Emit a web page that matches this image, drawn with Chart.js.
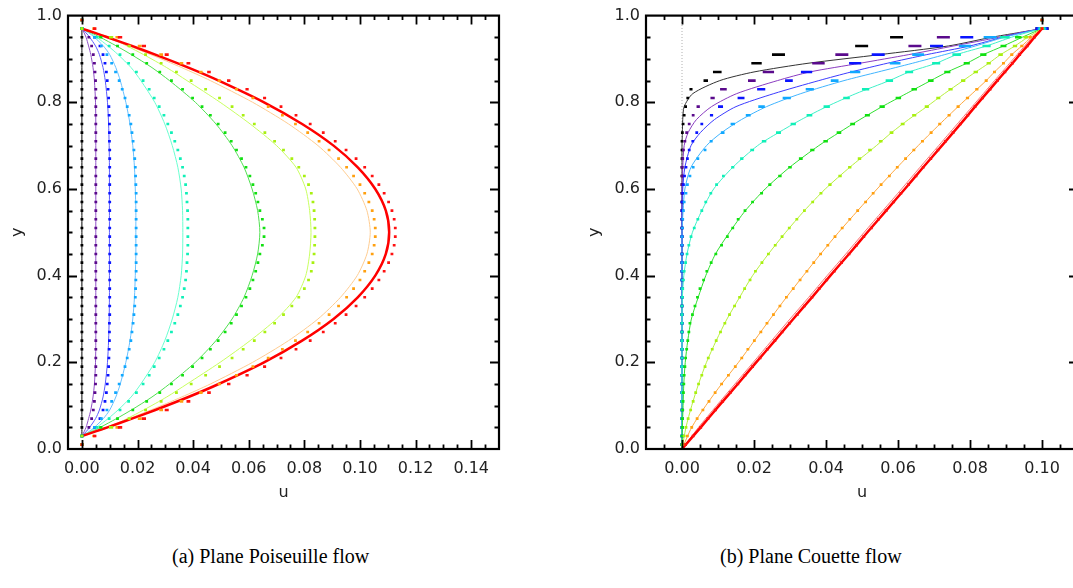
<!DOCTYPE html>
<html>
<head>
<meta charset="utf-8">
<script src="https://cdn.jsdelivr.net/npm/chart.js@4.4.0/dist/chart.umd.min.js"></script>
<style>
  html, body { margin: 0; padding: 0; background: #fff; overflow: hidden; width: 1073px; height: 588px; }
  #pois { position: absolute; left: 0; top: 0; }
  #coue { position: absolute; left: 560px; top: 0; }
  .cap { position: absolute; top: 545px; font-family: "Liberation Serif", serif; font-size: 20px; color: #000; white-space: nowrap; }
</style>
</head>
<body>
<canvas id="pois" width="520" height="510"></canvas>
<canvas id="coue" width="540" height="510"></canvas>
<div class="cap" style="left:172px">(a) Plane Poiseuille flow</div>
<div class="cap" style="left:720px">(b) Plane Couette flow</div>
<script>
// ---- tick labels ----
const Y_TICKS = [0, 0.2, 0.4, 0.6, 0.8, 1.0];
const POIS_X_TICKS = [0, 0.02, 0.04, 0.06, 0.08, 0.10, 0.12, 0.14];
const COUE_X_TICKS = [0, 0.02, 0.04, 0.06, 0.08, 0.10];

// y positions of the simulation nodes (both panels)
const DOT_Y = [0.01, 0.03, 0.05, 0.07, 0.09, 0.11, 0.13, 0.15, 0.17, 0.19, 0.21, 0.23, 0.25, 0.27, 0.29, 0.31, 0.33, 0.35, 0.37, 0.39, 0.41, 0.43, 0.45, 0.47, 0.49,
  0.51, 0.53, 0.55, 0.57, 0.59, 0.61, 0.63, 0.65, 0.67, 0.69, 0.71, 0.73, 0.75, 0.77, 0.79, 0.81, 0.83, 0.85, 0.87, 0.89, 0.91, 0.93, 0.95, 0.97, 0.99];

// ---- (a) Poiseuille: analytic curves ----
const POIS_LINE_Y = [0.03, 0.04, 0.05, 0.07, 0.09, 0.12, 0.15, 0.2, 0.25, 0.3, 0.35, 0.4, 0.45, 0.5, 0.55, 0.6, 0.65, 0.7, 0.75, 0.8, 0.85, 0.88, 0.91, 0.93, 0.95, 0.96, 0.97];
const POIS_RED_LINE = [0, 0.0047, 0.0092, 0.0180, 0.0264, 0.0383, 0.0492, 0.0655, 0.0792, 0.0905, 0.0992, 0.1055, 0.1093, 0.1105, 0.1093, 0.1055, 0.0992, 0.0905, 0.0792, 0.0655, 0.0492, 0.0383, 0.0264, 0.0180, 0.0092, 0.0047, 0];
const POIS_ORANGE_LINE = [0, 0.0044, 0.0086, 0.0169, 0.0248, 0.0359, 0.0462, 0.0614, 0.0743, 0.0849, 0.0930, 0.0990, 0.1025, 0.1037, 0.1025, 0.0990, 0.0930, 0.0849, 0.0743, 0.0614, 0.0462, 0.0359, 0.0248, 0.0169, 0.0086, 0.0044, 0];
const POIS_YELLOW_LINE = [0, 0.0050, 0.0098, 0.0162, 0.0222, 0.0305, 0.0378, 0.0497, 0.0605, 0.0700, 0.0770, 0.0805, 0.0819, 0.0824, 0.0819, 0.0805, 0.0770, 0.0700, 0.0605, 0.0497, 0.0378, 0.0305, 0.0222, 0.0162, 0.0098, 0.0050, 0];
const POIS_GREEN_LINE = [0, 0.0034, 0.0066, 0.0124, 0.0178, 0.0252, 0.0315, 0.0408, 0.0482, 0.0540, 0.0583, 0.0612, 0.0632, 0.0640, 0.0632, 0.0612, 0.0583, 0.0540, 0.0482, 0.0408, 0.0315, 0.0252, 0.0178, 0.0124, 0.0066, 0.0034, 0];
const POIS_AQUA_LINE = [0, 0.0028, 0.0053, 0.0094, 0.0130, 0.0177, 0.0212, 0.0262, 0.0298, 0.0325, 0.0345, 0.0357, 0.0362, 0.0363, 0.0362, 0.0357, 0.0345, 0.0325, 0.0298, 0.0262, 0.0212, 0.0177, 0.0130, 0.0094, 0.0053, 0.0028, 0];
const POIS_SKY_LINE = [0, 0.0025, 0.0045, 0.0077, 0.0100, 0.0122, 0.0138, 0.0158, 0.0173, 0.0183, 0.0189, 0.0192, 0.0194, 0.0194, 0.0194, 0.0192, 0.0189, 0.0183, 0.0173, 0.0158, 0.0138, 0.0122, 0.0100, 0.0077, 0.0045, 0.0025, 0];
const POIS_BLUE_LINE = [0, 0.0015, 0.0028, 0.0049, 0.0063, 0.0076, 0.0084, 0.0092, 0.0096, 0.0098, 0.0099, 0.0099, 0.0099, 0.0099, 0.0099, 0.0099, 0.0099, 0.0098, 0.0096, 0.0092, 0.0084, 0.0076, 0.0063, 0.0049, 0.0028, 0.0015, 0];
const POIS_PURPLE_LINE = [0, 0.0008, 0.0015, 0.0024, 0.0032, 0.0040, 0.0045, 0.0049, 0.0050, 0.0050, 0.0050, 0.0050, 0.0050, 0.0050, 0.0050, 0.0050, 0.0050, 0.0050, 0.0050, 0.0049, 0.0045, 0.0040, 0.0032, 0.0024, 0.0015, 0.0008, 0];
const POIS_BLACK_LINE = [0, 0, 0, 0, 0, 0, 0, 0, 0, 0, 0, 0, 0, 0, 0, 0, 0, 0, 0, 0, 0, 0, 0, 0, 0, 0, 0];

// ---- (a) Poiseuille: simulation nodes ----
const POIS_RED_DOTS = [0, 0.0046, 0.0137, 0.0223, 0.0305, 0.0383, 0.0457, 0.0528, 0.0594, 0.0657, 0.0716, 0.0770, 0.0821, 0.0868, 0.0911, 0.0950, 0.0986, 0.1017, 0.1044, 0.1068, 0.1087, 0.1103, 0.1115, 0.1123, 0.1127,
  0.1127, 0.1123, 0.1115, 0.1103, 0.1087, 0.1068, 0.1044, 0.1017, 0.0986, 0.0950, 0.0911, 0.0868, 0.0821, 0.0770, 0.0716, 0.0657, 0.0594, 0.0528, 0.0457, 0.0383, 0.0305, 0.0223, 0.0137, 0.0046, 0];
const POIS_ORANGE_DOTS = [0, 0.0043, 0.0128, 0.0208, 0.0285, 0.0358, 0.0428, 0.0494, 0.0556, 0.0615, 0.0670, 0.0721, 0.0768, 0.0812, 0.0853, 0.0889, 0.0923, 0.0952, 0.0977, 0.1000, 0.1017, 0.1032, 0.1044, 0.1051, 0.1055,
  0.1055, 0.1051, 0.1044, 0.1032, 0.1017, 0.1000, 0.0977, 0.0952, 0.0923, 0.0889, 0.0853, 0.0812, 0.0768, 0.0721, 0.0670, 0.0615, 0.0556, 0.0494, 0.0428, 0.0358, 0.0285, 0.0208, 0.0128, 0.0043, 0];
const POIS_YELLOW_DOTS = [0, 0, 0.0105, 0.0170, 0.0229, 0.0285, 0.0340, 0.0393, 0.0445, 0.0495, 0.0540, 0.0580, 0.0620, 0.0658, 0.0693, 0.0725, 0.0755, 0.0780, 0.0800, 0.0815, 0.0825, 0.0831, 0.0835, 0.0837, 0.0838,
  0.0838, 0.0837, 0.0835, 0.0831, 0.0825, 0.0815, 0.0800, 0.0780, 0.0755, 0.0725, 0.0693, 0.0658, 0.0620, 0.0580, 0.0540, 0.0495, 0.0445, 0.0393, 0.0340, 0.0285, 0.0229, 0.0170, 0.0105, 0, 0];
const POIS_GREEN_DOTS = [0, 0, 0.0068, 0.0128, 0.0183, 0.0233, 0.0280, 0.0322, 0.0362, 0.0398, 0.0432, 0.0462, 0.0490, 0.0515, 0.0537, 0.0556, 0.0574, 0.0590, 0.0604, 0.0615, 0.0625, 0.0633, 0.0640, 0.0649, 0.0655,
  0.0655, 0.0649, 0.0640, 0.0633, 0.0625, 0.0615, 0.0604, 0.0590, 0.0574, 0.0556, 0.0537, 0.0515, 0.0490, 0.0462, 0.0432, 0.0398, 0.0362, 0.0322, 0.0280, 0.0233, 0.0183, 0.0128, 0.0068, 0, 0];
const POIS_AQUA_DOTS = [0, 0, 0.0055, 0.0098, 0.0137, 0.0168, 0.0196, 0.0220, 0.0242, 0.0260, 0.0278, 0.0295, 0.0309, 0.0322, 0.0334, 0.0345, 0.0354, 0.0362, 0.0368, 0.0373, 0.0376, 0.0378, 0.0380, 0.0381, 0.0381,
  0.0381, 0.0381, 0.0380, 0.0378, 0.0376, 0.0373, 0.0368, 0.0362, 0.0354, 0.0345, 0.0334, 0.0322, 0.0309, 0.0295, 0.0278, 0.0260, 0.0242, 0.0220, 0.0196, 0.0168, 0.0137, 0.0098, 0.0055, 0, 0];
const POIS_SKY_DOTS = [0, 0, 0.0045, 0.0070, 0.0090, 0.0107, 0.0121, 0.0134, 0.0145, 0.0155, 0.0163, 0.0170, 0.0176, 0.0180, 0.0184, 0.0187, 0.0190, 0.0192, 0.0193, 0.0194, 0.0195, 0.0195, 0.0195, 0.0195, 0.0195,
  0.0195, 0.0195, 0.0195, 0.0195, 0.0195, 0.0194, 0.0193, 0.0192, 0.0190, 0.0187, 0.0184, 0.0180, 0.0176, 0.0170, 0.0163, 0.0155, 0.0145, 0.0134, 0.0121, 0.0107, 0.0090, 0.0070, 0.0045, 0, 0];
const POIS_BLUE_DOTS = [0, 0, 0.0045, 0.0065, 0.0076, 0.0083, 0.0088, 0.0091, 0.0094, 0.0096, 0.0097, 0.0098, 0.0099, 0.0099, 0.0099, 0.0100, 0.0100, 0.0100, 0.0100, 0.0100, 0.0100, 0.0100, 0.0100, 0.0100, 0.0100,
  0.0100, 0.0100, 0.0100, 0.0100, 0.0100, 0.0100, 0.0100, 0.0100, 0.0100, 0.0100, 0.0099, 0.0099, 0.0099, 0.0098, 0.0097, 0.0096, 0.0094, 0.0091, 0.0088, 0.0083, 0.0076, 0.0065, 0.0045, 0, 0];
const POIS_PURPLE_DOTS = [0, 0, 0.0025, 0.0035, 0.0041, 0.0045, 0.0047, 0.0049, 0.0050, 0.0050, 0.0050, 0.0050, 0.0050, 0.0050, 0.0050, 0.0050, 0.0050, 0.0050, 0.0050, 0.0050, 0.0050, 0.0050, 0.0050, 0.0050, 0.0050,
  0.0050, 0.0050, 0.0050, 0.0050, 0.0050, 0.0050, 0.0050, 0.0050, 0.0050, 0.0050, 0.0050, 0.0050, 0.0050, 0.0050, 0.0050, 0.0050, 0.0050, 0.0049, 0.0047, 0.0045, 0.0041, 0.0035, 0.0025, 0, 0];
const POIS_BLACK_DOTS = [0, 0, 0, 0, 0, 0, 0, 0, 0, 0, 0, 0, 0, 0, 0, 0, 0, 0, 0, 0, 0, 0, 0, 0, 0,
  0, 0, 0, 0, 0, 0, 0, 0, 0, 0, 0, 0, 0, 0, 0, 0, 0, 0, 0, 0, 0, 0, 0, 0, 0];

// ---- (b) Couette: analytic curves ----
const COUE_LINE_Y = [0, 0.05, 0.1, 0.15, 0.2, 0.25, 0.3, 0.35, 0.4, 0.45, 0.5, 0.55, 0.6, 0.65, 0.7, 0.73, 0.76, 0.79, 0.82, 0.85, 0.87, 0.89, 0.91, 0.93, 0.95, 0.96, 0.97];
const COUE_RED_LINE = [0, 0.0052, 0.0103, 0.0155, 0.0206, 0.0258, 0.0309, 0.0361, 0.0412, 0.0464, 0.0515, 0.0567, 0.0619, 0.0670, 0.0722, 0.0753, 0.0784, 0.0814, 0.0845, 0.0876, 0.0897, 0.0918, 0.0938, 0.0959, 0.0979, 0.0990, 0.1000];
const COUE_PINK_LINE = [0, 0.0046, 0.0096, 0.0147, 0.0198, 0.0249, 0.0300, 0.0352, 0.0403, 0.0455, 0.0506, 0.0558, 0.0610, 0.0661, 0.0713, 0.0744, 0.0775, 0.0806, 0.0837, 0.0868, 0.0889, 0.0910, 0.0931, 0.0952, 0.0973, 0.0987, 0.1000];
const COUE_ORANGE_LINE = [0, 0.0027, 0.0066, 0.0110, 0.0157, 0.0201, 0.0245, 0.0290, 0.0337, 0.0385, 0.0435, 0.0488, 0.0542, 0.0598, 0.0656, 0.0692, 0.0729, 0.0767, 0.0806, 0.0845, 0.0868, 0.0893, 0.0916, 0.0944, 0.0970, 0.0985, 0.1000];
const COUE_YELLOW_LINE = [0, 0.0011, 0.0027, 0.0046, 0.0068, 0.0095, 0.0125, 0.0160, 0.0196, 0.0240, 0.0288, 0.0340, 0.0398, 0.0466, 0.0540, 0.0582, 0.0629, 0.0680, 0.0729, 0.0781, 0.0816, 0.0852, 0.0885, 0.0925, 0.0960, 0.0980, 0.1000];
const COUE_GREEN_LINE = [0, 0.0001, 0.0003, 0.0005, 0.0009, 0.0016, 0.0026, 0.0045, 0.0066, 0.0093, 0.0132, 0.0176, 0.0231, 0.0299, 0.0380, 0.0436, 0.0494, 0.0556, 0.0623, 0.0691, 0.0737, 0.0791, 0.0837, 0.0893, 0.0945, 0.0972, 0.1000];
const COUE_AQUA_LINE = [0, 0, 0, 0, 0, 0, 0, 0.0001, 0.0005, 0.0014, 0.0029, 0.0055, 0.0088, 0.0141, 0.0210, 0.0268, 0.0331, 0.0402, 0.0483, 0.0576, 0.0631, 0.0706, 0.0763, 0.0846, 0.0915, 0.0955, 0.1000];
const COUE_SKY_LINE = [0, 0, 0, 0, 0, 0, 0, 0, 0, 0, 0, 0.0003, 0.0008, 0.0025, 0.0068, 0.0110, 0.0165, 0.0235, 0.0330, 0.0450, 0.0545, 0.0640, 0.0730, 0.0815, 0.0895, 0.0945, 0.1000];
const COUE_BLUE_LINE = [0, 0, 0, 0, 0, 0, 0, 0, 0, 0, 0, 0, 0.0002, 0.0008, 0.0025, 0.0051, 0.0090, 0.0150, 0.0255, 0.0380, 0.0470, 0.0570, 0.0680, 0.0800, 0.0890, 0.0940, 0.1000];
const COUE_PURPLE_LINE = [0, 0, 0, 0, 0, 0, 0, 0, 0, 0, 0, 0, 0, 0.0002, 0.0006, 0.0017, 0.0040, 0.0082, 0.0152, 0.0265, 0.0355, 0.0494, 0.0630, 0.0755, 0.0880, 0.0935, 0.1000];
const COUE_BLACK_LINE = [0, 0, 0, 0, 0, 0, 0, 0, 0, 0, 0, 0, 0, 0, 0, 0.0001, 0.0002, 0.0006, 0.0030, 0.0105, 0.0200, 0.0350, 0.0550, 0.0740, 0.0860, 0.0930, 0.1000];

// ---- (b) Couette: simulation nodes ----
const COUE_RED_DOTS = [0.0010, 0.0031, 0.0052, 0.0072, 0.0093, 0.0113, 0.0134, 0.0155, 0.0175, 0.0196, 0.0217, 0.0237, 0.0258, 0.0278, 0.0299, 0.0320, 0.0340, 0.0361, 0.0381, 0.0402, 0.0423, 0.0443, 0.0464, 0.0485, 0.0505,
  0.0526, 0.0546, 0.0567, 0.0588, 0.0608, 0.0629, 0.0650, 0.0670, 0.0691, 0.0711, 0.0732, 0.0753, 0.0773, 0.0794, 0.0814, 0.0835, 0.0856, 0.0876, 0.0897, 0.0918, 0.0938, 0.0959, 0.0979, 0.1000, 0.1000];
const COUE_ORANGE_DOTS = [0.0005, 0.0015, 0.0027, 0.0042, 0.0058, 0.0075, 0.0092, 0.0110, 0.0129, 0.0148, 0.0166, 0.0183, 0.0201, 0.0219, 0.0236, 0.0254, 0.0272, 0.0290, 0.0309, 0.0328, 0.0347, 0.0366, 0.0385, 0.0405, 0.0425,
  0.0445, 0.0466, 0.0488, 0.0510, 0.0531, 0.0553, 0.0576, 0.0598, 0.0621, 0.0644, 0.0668, 0.0692, 0.0716, 0.0742, 0.0767, 0.0793, 0.0819, 0.0845, 0.0868, 0.0893, 0.0916, 0.0944, 0.0967, 0.1000, 0.1000];
const COUE_YELLOW_DOTS = [0.0002, 0.0006, 0.0011, 0.0017, 0.0024, 0.0031, 0.0038, 0.0046, 0.0055, 0.0064, 0.0073, 0.0084, 0.0095, 0.0107, 0.0119, 0.0132, 0.0146, 0.0160, 0.0174, 0.0189, 0.0204, 0.0222, 0.0240, 0.0259, 0.0278,
  0.0298, 0.0319, 0.0340, 0.0363, 0.0386, 0.0411, 0.0439, 0.0466, 0.0493, 0.0522, 0.0552, 0.0582, 0.0613, 0.0645, 0.0680, 0.0712, 0.0746, 0.0781, 0.0816, 0.0852, 0.0885, 0.0925, 0.0955, 0.1000, 0.1000];
const COUE_GREEN_DOTS = [0, 0, 0.0001, 0.0001, 0.0002, 0.0003, 0.0004, 0.0005, 0.0006, 0.0008, 0.0010, 0.0013, 0.0016, 0.0019, 0.0022, 0.0029, 0.0036, 0.0043, 0.0050, 0.0060, 0.0069, 0.0081, 0.0094, 0.0110, 0.0126,
  0.0141, 0.0156, 0.0175, 0.0196, 0.0221, 0.0244, 0.0272, 0.0300, 0.0330, 0.0362, 0.0399, 0.0436, 0.0474, 0.0515, 0.0556, 0.0601, 0.0645, 0.0691, 0.0737, 0.0791, 0.0837, 0.0893, 0.0934, 0.1000, 0.1000];
const COUE_AQUA_DOTS = [0, 0, 0, 0, 0, 0, 0, 0, 0, 0, 0, 0, 0, 0, 0, 0, 0, 0.0001, 0.0002, 0.0004, 0.0006, 0.0010, 0.0014, 0.0019, 0.0025,
  0.0034, 0.0044, 0.0055, 0.0066, 0.0080, 0.0096, 0.0115, 0.0141, 0.0166, 0.0195, 0.0228, 0.0268, 0.0309, 0.0354, 0.0402, 0.0457, 0.0510, 0.0576, 0.0631, 0.0706, 0.0763, 0.0846, 0.0897, 0.1000, 0.1000];
const COUE_SKY_DOTS = [0, 0, 0, 0, 0, 0, 0, 0, 0, 0, 0, 0, 0, 0, 0, 0, 0, 0, 0, 0, 0, 0, 0, 0, 0,
  0.0001, 0.0002, 0.0004, 0.0006, 0.0011, 0.0015, 0.0022, 0.0031, 0.0044, 0.0064, 0.0081, 0.0113, 0.0141, 0.0184, 0.0221, 0.0291, 0.0355, 0.0424, 0.0481, 0.0592, 0.0656, 0.0786, 0.0856, 0.1000, 0.1000];
const COUE_BLUE_DOTS = [0, 0, 0, 0, 0, 0, 0, 0, 0, 0, 0, 0, 0, 0, 0, 0, 0, 0, 0, 0, 0, 0, 0, 0, 0,
  0, 0, 0, 0, 0.0002, 0.0004, 0.0007, 0.0011, 0.0015, 0.0020, 0.0030, 0.0041, 0.0055, 0.0082, 0.0107, 0.0164, 0.0220, 0.0297, 0.0346, 0.0481, 0.0545, 0.0707, 0.0791, 0.1000, 0.1000];
const COUE_PURPLE_DOTS = [0, 0, 0, 0, 0, 0, 0, 0, 0, 0, 0, 0, 0, 0, 0, 0, 0, 0, 0, 0, 0, 0, 0, 0, 0,
  0, 0, 0, 0, 0, 0, 0, 0, 0.0002, 0.0004, 0.0008, 0.0013, 0.0020, 0.0031, 0.0045, 0.0085, 0.0115, 0.0194, 0.0240, 0.0379, 0.0444, 0.0647, 0.0726, 0.1000, 0.1000];
const COUE_BLACK_DOTS = [0, 0, 0, 0, 0, 0, 0, 0, 0, 0, 0, 0, 0, 0, 0, 0, 0, 0, 0, 0, 0, 0, 0, 0, 0,
  0, 0, 0, 0, 0, 0, 0, 0, 0, 0, 0, 0.0001, 0.0003, 0.0006, 0.0010, 0.0016, 0.0025, 0.0066, 0.0098, 0.0207, 0.0268, 0.0499, 0.0596, 0.1000, 0.1000];

// ---- colours ----
const DOT_COL = { red: '#ff1010', orange: '#ffa010', yellow: '#a8f010', green: '#10e010', aqua: '#10f0b8', sky: '#10a8ff', blue: '#0a14ff', purple: '#5a0a8c', black: '#000000' };
const POIS_LINE_COL = { red: '#ff0000', orange: '#ffcc90', yellow: '#c8ff60', green: '#50e050', aqua: '#6affd0', sky: '#6ac0ff', blue: '#5a5aff', purple: '#9050c8', black: '#000000' };
const COUE_LINE_COL = { red: '#ff0000', orange: '#ffa840', yellow: '#b8f040', green: '#30e030', aqua: '#40f0c8', sky: '#40b4ff', blue: '#3c3cff', purple: '#8a3cc0', black: '#333333' };

const FONT = { family: 'DejaVu Sans', size: 16 };
const TXT = '#222';

const pts = (us, ys) => ys.map((y, i) => ({ x: us[i], y: y }));

// dots get wider where neighbouring nodes are far apart horizontally
function dashRadius(k) {
  return ctx => {
    const d = ctx.dataset.data, i = ctx.dataIndex, xs = ctx.chart.scales.x;
    if (!xs || !d[i]) return 1.4;
    const p = xs.getPixelForValue(d[i].x);
    let s = 0, n = 0;
    if (i > 0) { s += Math.abs(xs.getPixelForValue(d[i - 1].x) - p); n++; }
    if (i < d.length - 1) { s += Math.abs(xs.getPixelForValue(d[i + 1].x) - p); n++; }
    return Math.max(1.4, Math.min(6.5, k * s / n));
  };
}

function lineSet(us, ys, col, w) {
  return { data: pts(us, ys), showLine: true, borderColor: col, borderWidth: w || 1, pointRadius: 0, tension: 0.25, order: 2 };
}
function dotSet(us, col, k) {
  return { data: pts(us, DOT_Y), showLine: false, pointStyle: 'line', pointRadius: dashRadius(k), pointBorderWidth: 2.6, pointBorderColor: col, pointBackgroundColor: col, order: 1 };
}

// frame and inward ticks on all four sides
const frameTicks = {
  id: 'frameTicks',
  afterDraw(chart, args, o) {
    const { ctx, chartArea: a } = chart;
    const xs = chart.scales.x, ys = chart.scales.y;
    ctx.save();
    ctx.strokeStyle = '#000';
    ctx.lineWidth = 1.8;
    ctx.beginPath();
    const nx = Math.round((xs.max - xs.min) / o.xMinor);
    for (let i = 1; i < nx; i++) {
      const v = xs.min + i * o.xMinor;
      const len = o.xMajor.some(m => Math.abs(m - v) < 1e-7) ? 9 : 4.5;
      const p = Math.round(xs.getPixelForValue(v)) + 0.5;
      ctx.moveTo(p, a.bottom); ctx.lineTo(p, a.bottom - len);
      ctx.moveTo(p, a.top); ctx.lineTo(p, a.top + len);
    }
    const ny = Math.round((ys.max - ys.min) / o.yMinor);
    for (let i = 1; i < ny; i++) {
      const v = ys.min + i * o.yMinor;
      const len = Y_TICKS.some(m => Math.abs(m - v) < 1e-7) ? 9 : 4.5;
      const p = Math.round(ys.getPixelForValue(v)) + 0.5;
      ctx.moveTo(a.left, p); ctx.lineTo(a.left + len, p);
      ctx.moveTo(a.right, p); ctx.lineTo(a.right - len, p);
    }
    ctx.stroke();
    ctx.lineWidth = 2.2;
    ctx.strokeRect(a.left, a.top, a.right - a.left, a.bottom - a.top);
    ctx.restore();
  }
};

function makeChart(id, cfg) {
  new Chart(document.getElementById(id), {
    type: 'scatter',
    data: { datasets: cfg.datasets },
    options: {
      responsive: false,
      animation: false,
      events: [],
      layout: { padding: { left: 0, top: 14, right: cfg.padRight, bottom: 0 } },
      plugins: { legend: { display: false }, tooltip: { enabled: false }, frameTicks: { xMinor: 0.005, yMinor: 0.05, xMajor: cfg.xTicks } },
      scales: {
        x: {
          type: 'linear', min: cfg.xMin, max: cfg.xMax,
          afterBuildTicks: s => { s.ticks = cfg.xTicks.map(v => ({ value: v })); },
          afterFit: s => { s.height = 61; },
          grid: { display: false, drawTicks: false },
          border: { display: false },
          ticks: { font: FONT, color: TXT, padding: 10, maxRotation: 0, autoSkip: false, callback: v => v.toFixed(2) },
          title: { display: true, text: 'u', font: FONT, color: TXT, padding: { top: 0, bottom: 8 } }
        },
        y: {
          type: 'linear', min: 0, max: 1,
          afterBuildTicks: s => { s.ticks = Y_TICKS.map(v => ({ value: v })); },
          afterFit: s => { s.width = cfg.yWidth; },
          grid: { display: false, drawTicks: false },
          border: { display: false },
          ticks: { font: FONT, color: TXT, padding: 6, callback: v => v.toFixed(1) },
          title: { display: true, text: 'y', font: FONT, color: TXT, padding: { top: cfg.yTitlePad, bottom: 0 } }
        }
      }
    },
    plugins: [frameTicks]
  });
}

const PL = POIS_LINE_COL;
const KP = 0.09;
makeChart('pois', {
  xMin: -0.005, xMax: 0.15, xTicks: POIS_X_TICKS, yWidth: 68, padRight: 21, yTitlePad: 8,
  datasets: [
    lineSet(POIS_RED_LINE, POIS_LINE_Y, PL.red, 2.5),
    lineSet(POIS_ORANGE_LINE, POIS_LINE_Y, PL.orange),
    lineSet(POIS_YELLOW_LINE, POIS_LINE_Y, PL.yellow),
    lineSet(POIS_GREEN_LINE, POIS_LINE_Y, PL.green),
    lineSet(POIS_AQUA_LINE, POIS_LINE_Y, PL.aqua),
    lineSet(POIS_SKY_LINE, POIS_LINE_Y, PL.sky),
    lineSet(POIS_BLUE_LINE, POIS_LINE_Y, PL.blue),
    lineSet(POIS_PURPLE_LINE, POIS_LINE_Y, PL.purple),
    lineSet(POIS_BLACK_LINE, POIS_LINE_Y, PL.black),
    dotSet(POIS_RED_DOTS, DOT_COL.red, KP),
    dotSet(POIS_ORANGE_DOTS, DOT_COL.orange, KP),
    dotSet(POIS_YELLOW_DOTS, DOT_COL.yellow, KP),
    dotSet(POIS_GREEN_DOTS, DOT_COL.green, KP),
    dotSet(POIS_AQUA_DOTS, DOT_COL.aqua, KP),
    dotSet(POIS_SKY_DOTS, DOT_COL.sky, KP),
    dotSet(POIS_BLUE_DOTS, DOT_COL.blue, KP),
    dotSet(POIS_PURPLE_DOTS, DOT_COL.purple, KP),
    dotSet(POIS_BLACK_DOTS, DOT_COL.black, KP)
  ]
});

const CL = COUE_LINE_COL;
const KC = 0.17;
makeChart('coue', {
  xMin: -0.01, xMax: 0.11, xTicks: COUE_X_TICKS, yWidth: 86, padRight: 22, yTitlePad: 25,
  datasets: [
    lineSet(COUE_RED_LINE, COUE_LINE_Y, CL.red, 2.5),
    lineSet(COUE_PINK_LINE, COUE_LINE_Y, '#ff7070'),
    lineSet(COUE_ORANGE_LINE, COUE_LINE_Y, CL.orange),
    lineSet(COUE_YELLOW_LINE, COUE_LINE_Y, CL.yellow),
    lineSet(COUE_GREEN_LINE, COUE_LINE_Y, CL.green),
    lineSet(COUE_AQUA_LINE, COUE_LINE_Y, CL.aqua),
    lineSet(COUE_SKY_LINE, COUE_LINE_Y, CL.sky),
    lineSet(COUE_BLUE_LINE, COUE_LINE_Y, CL.blue),
    lineSet(COUE_PURPLE_LINE, COUE_LINE_Y, CL.purple),
    lineSet(COUE_BLACK_LINE, COUE_LINE_Y, CL.black),
    { data: pts([0, 0], [0, 1]), showLine: true, borderColor: '#b0b0b0', borderWidth: 1, borderDash: [1, 2], pointRadius: 0, order: 3 },
    dotSet(COUE_RED_DOTS, DOT_COL.red, KC),
    dotSet(COUE_ORANGE_DOTS, DOT_COL.orange, KC),
    dotSet(COUE_YELLOW_DOTS, DOT_COL.yellow, KC),
    dotSet(COUE_GREEN_DOTS, DOT_COL.green, KC),
    dotSet(COUE_AQUA_DOTS, DOT_COL.aqua, KC),
    dotSet(COUE_SKY_DOTS, DOT_COL.sky, KC),
    dotSet(COUE_BLUE_DOTS, DOT_COL.blue, KC),
    dotSet(COUE_PURPLE_DOTS, DOT_COL.purple, KC),
    dotSet(COUE_BLACK_DOTS, DOT_COL.black, KC)
  ]
});
</script>
</body>
</html>
